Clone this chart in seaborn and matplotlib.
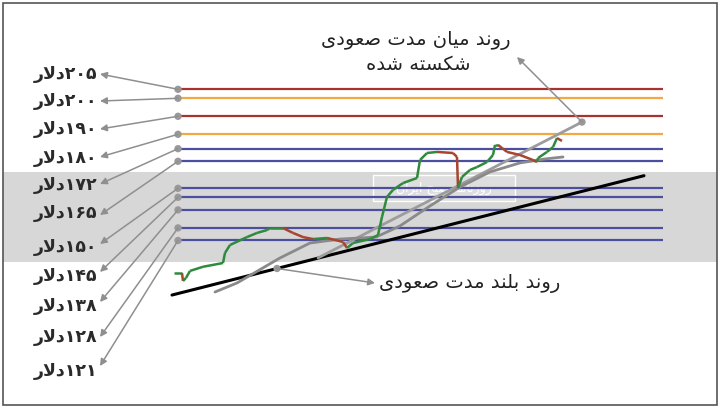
import re
import numpy as np
import matplotlib
matplotlib.use('Agg')
import matplotlib.pyplot as plt
from matplotlib.patches import Rectangle
import seaborn as sns

# support / resistance levels in dollars
levels = [205, 200, 190, 180, 172, 165, 150, 145, 138, 128, 121]
level_colors = ['#a8322e', '#f2a945', '#a8322e', '#f2a945'] + ['#4b4f9e'] * 7

# price path (day index, dollars)
days = [0, 8, 9, 12, 16, 29, 49, 51, 56, 73, 83, 93, 96, 109, 119, 129, 139, 153,
        169, 173, 179, 196, 204, 208, 213, 219, 229, 243, 246, 253, 263, 279, 283,
        284, 288, 296, 303, 313, 319, 321, 324, 328, 333, 346, 359, 363, 364, 373,
        379, 383, 388]
prices = [102.9, 102.9, 98.5, 100.2, 104.1, 106.4, 108.5, 114.1, 118.5, 122.9, 125.2,
          126.8, 127.9, 127.9, 125.2, 122.9, 121.8, 122.4, 120.2, 116.8, 119.6, 121.8,
          124.0, 134.1, 145.2, 149.1, 152.9, 155.7, 165.7, 169.6, 170.2, 169.6, 167.4,
          150.2, 156.3, 160.2, 161.8, 164.6, 168.5, 174.1, 174.1, 172.4, 170.2, 168.5,
          165.7, 164.6, 166.8, 170.2, 172.9, 177.9, 176.3]

# moving average curve
ma_days = [41, 63, 106, 136, 166, 202, 226, 256, 286, 316, 346, 371, 389]
ma_prices = [92.4, 97.4, 111.3, 119.6, 121.8, 122.9, 129.1, 140.2, 150.7, 159.1,
             164.1, 166.3, 167.4]

# trend lines
long_days = [-2, 470]
long_prices = [90.7, 157.0]
mid_days = [144, 408]
mid_prices = [111.3, 186.8]

# label layout (pixels)
label_y = [74, 101, 129, 158, 185, 213, 247, 276, 306, 337, 371]
tip_y = [74, 101, 129, 157, 184, 215, 244, 272, 302, 337, 366]

# --- minimal Persian shaping (matplotlib has no RTL/joining support) ---
FORMS = {
    'ا': ('\uFE8D', '\uFE8E'), 'د': ('\uFEA9', '\uFEAA'), 'ر': ('\uFEAD', '\uFEAE'),
    'ز': ('\uFEAF', '\uFEB0'), 'و': ('\uFEED', '\uFEEE'),
    'ب': ('\uFE8F', '\uFE90', '\uFE91', '\uFE92'), 'ت': ('\uFE95', '\uFE96', '\uFE97', '\uFE98'),
    'ح': ('\uFEA1', '\uFEA2', '\uFEA3', '\uFEA4'), 'س': ('\uFEB1', '\uFEB2', '\uFEB3', '\uFEB4'),
    'ش': ('\uFEB5', '\uFEB6', '\uFEB7', '\uFEB8'), 'ص': ('\uFEB9', '\uFEBA', '\uFEBB', '\uFEBC'),
    'ع': ('\uFEC9', '\uFECA', '\uFECB', '\uFECC'), 'ق': ('\uFED5', '\uFED6', '\uFED7', '\uFED8'),
    'ل': ('\uFEDD', '\uFEDE', '\uFEDF', '\uFEE0'), 'م': ('\uFEE1', '\uFEE2', '\uFEE3', '\uFEE4'),
    'ن': ('\uFEE5', '\uFEE6', '\uFEE7', '\uFEE8'), 'ه': ('\uFEE9', '\uFEEA', '\uFEEB', '\uFEEC'),
    'ی': ('\uFBFC', '\uFBFD', '\uFBFE', '\uFBFF'), 'ک': ('\uFB8E', '\uFB8F', '\uFB90', '\uFB91'),
}
DIGITS = '۰۱۲۳۴۵۶۷۸۹'


def fa(text):
    chars = list(text)
    out = []
    dual = lambda c: c in FORMS and len(FORMS[c]) == 4
    i = 0
    while i < len(chars):
        c = chars[i]
        if c not in FORMS:
            out.append(c)
            i += 1
            continue
        prev = i > 0 and dual(chars[i - 1])
        if c == 'ل' and i + 1 < len(chars) and chars[i + 1] == 'ا':
            out.append('\uFEFC' if prev else '\uFEFB')
            i += 2
            continue
        nxt = dual(c) and i + 1 < len(chars) and chars[i + 1] in FORMS
        f = FORMS[c]
        out.append(f[3] if prev and nxt else f[1] if prev else f[2] if nxt else f[0])
        i += 1
    runs = re.findall('[' + DIGITS + ']+|[^' + DIGITS + ']+', ''.join(out))
    return ''.join(r if r[0] in DIGITS else r[::-1] for r in reversed(runs))


def fa_num(n):
    return str(n).translate(str.maketrans('0123456789', DIGITS))


sns.set_theme(style='white')
plt.rcParams['font.family'] = ['DejaVu Sans']

fig = plt.figure(figsize=(7.24, 4.15), dpi=100)
ax_bg = fig.add_axes([0, 0, 1, 1], zorder=0)
ax = fig.add_axes([0, 0, 1, 1], zorder=1)
ax_top = fig.add_axes([0, 0, 1, 1], zorder=2)
for a in (ax_bg, ax_top):
    a.set_xlim(0, 724)
    a.set_ylim(415, 0)
ax.set_xlim(-174, 550)
ax.set_ylim(24.06, 254.6)
for a in (ax_bg, ax, ax_top):
    a.axis('off')
    a.patch.set_alpha(0)

# watermark band with the newspaper tag
ax_bg.add_patch(Rectangle((3, 172), 714, 90, color='#d7d7d7', lw=0))
ax_bg.add_patch(Rectangle((373, 175), 142, 26, facecolor='#dedede', edgecolor='white', lw=1))
ax_bg.text(444, 188, fa('روزنامه صبح ایران'), fontsize=9, color='white', ha='center', va='center')

# horizontal levels
ax.hlines(levels, 4, 489, colors=level_colors, lw=1.6)

# trend lines and moving average
sns.lineplot(x=long_days, y=long_prices, color='black', lw=2.2, ax=ax)
sns.lineplot(x=mid_days, y=mid_prices, color='#9c9c9c', lw=2, ax=ax)
sns.lineplot(x=ma_days, y=ma_prices, color='#8a8a8a', lw=2, ax=ax)

# price path, green when rising and brown when falling
for i in range(len(days) - 1):
    c = '#a8452e' if prices[i + 1] < prices[i] else '#2f8a3e'
    ax.plot(days[i:i + 2], prices[i:i + 2], color=c, lw=1.8, solid_capstyle='butt')

# start dots of the levels and end dots of the annotated lines
long_dot = (103, float(np.interp(103, long_days, long_prices)))
sns.scatterplot(x=[4] * len(levels) + [mid_days[1], long_dot[0]],
                y=levels + [mid_prices[1], long_dot[1]],
                color='#999999', s=28, edgecolor='none', ax=ax, zorder=5)

arrow = dict(arrowstyle='-|>', color='#8f8f8f', lw=1.1, mutation_scale=10, shrinkA=0, shrinkB=0)
for lv, ly, ty in zip(levels, label_y, tip_y):
    ax_top.text(97, ly, fa(fa_num(lv) + 'دلار'), ha='right', va='center', fontsize=12.5,
                fontweight='bold', color='#2a2a2a')
    ax_top.annotate('', xy=(100, ty), xytext=(4, lv), textcoords=ax.transData, arrowprops=arrow)

ax_top.text(416, 40, fa('روند میان مدت صعودی'), ha='center', va='center', fontsize=14, color='#222222')
ax_top.text(418, 64, fa('شکسته شده'), ha='center', va='center', fontsize=14, color='#222222')
ax_top.annotate('', xy=(517, 57), xytext=(mid_days[1], mid_prices[1]), textcoords=ax.transData,
                arrowprops=arrow)

ax_top.text(379, 283, fa('روند بلند مدت صعودی'), ha='left', va='center', fontsize=14, color='#222222')
ax_top.annotate('', xy=(375, 283), xytext=long_dot, textcoords=ax.transData, arrowprops=arrow)

ax_top.add_patch(Rectangle((3, 3), 714, 402, fill=False, edgecolor='#555555', lw=1.2))

fig.savefig('out.png', dpi=100)
